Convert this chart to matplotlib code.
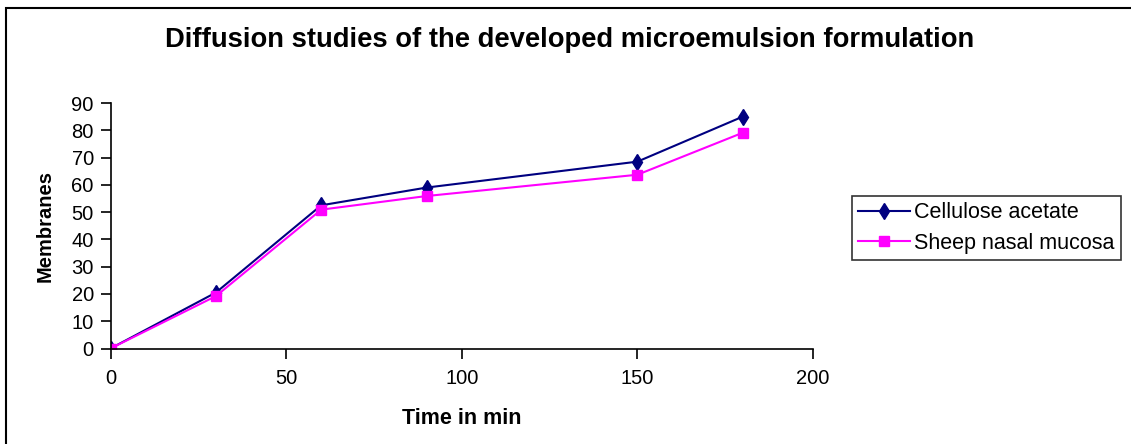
import matplotlib
matplotlib.use("Agg")
import matplotlib.pyplot as plt
from matplotlib.patches import Rectangle

time_min = [0, 30, 60, 90, 150, 180]
cellulose_acetate = [0, 20.5, 52.5, 59, 68.5, 85]
sheep_nasal_mucosa = [0, 19.2, 50.9, 55.9, 63.7, 79.1]
x_ticks = [0, 50, 100, 150, 200]
y_ticks = [0, 10, 20, 30, 40, 50, 60, 70, 80, 90]

plt.rcParams['font.family'] = ['Liberation Sans', 'DejaVu Sans']

fig = plt.figure(figsize=(11.31, 4.44), dpi=100)
ax = fig.add_axes([110.5/1131, 1-348.5/444, (813-110.5)/1131, (348.5-103)/444])

ax.plot(time_min, cellulose_acetate, color='#000080', marker='d', markersize=8,
        linewidth=1.5, label='Cellulose acetate')
ax.plot(time_min, sheep_nasal_mucosa, color='#FF00FF', marker='s', markersize=6.5,
        linewidth=1.5, label='Sheep nasal mucosa')

ax.set_xlim(0, 200)
ax.set_ylim(0, 90)
ax.set_xticks(x_ticks)
ax.set_yticks(y_ticks)
for s in ['top', 'right']:
    ax.spines[s].set_visible(False)
for s in ['left', 'bottom']:
    ax.spines[s].set_linewidth(1.2)
ax.tick_params(axis='both', direction='out', length=7, width=1.2, labelsize=14.5)
ax.tick_params(axis='x', pad=8)
ax.tick_params(axis='y', pad=5)
ax.set_xlabel('Time in min', fontsize=15.5, fontweight='bold', labelpad=14)
ax.set_ylabel('Membranes', fontsize=14.5, fontweight='bold', labelpad=12)

fig.text(570/1131, 1-40/444, 'Diffusion studies of the developed microemulsion formulation',
         ha='center', va='center', fontsize=19.7, fontweight='bold')

leg = ax.legend(loc='center left', bbox_to_anchor=(852/1131, 1-228/444),
                bbox_transform=fig.transFigure, fontsize=15.5, frameon=True,
                fancybox=False, edgecolor='black', handlelength=2.4,
                handletextpad=0.2, borderpad=0.3, labelspacing=0.45,
                borderaxespad=0)
leg.get_frame().set_linewidth(1.2)

fig.patches.append(Rectangle((6/1131, -0.2), 1.2, 1.2-8/444, transform=fig.transFigure,
                             fill=False, edgecolor='black', linewidth=1.5))

fig.savefig('out.png', dpi=100)
